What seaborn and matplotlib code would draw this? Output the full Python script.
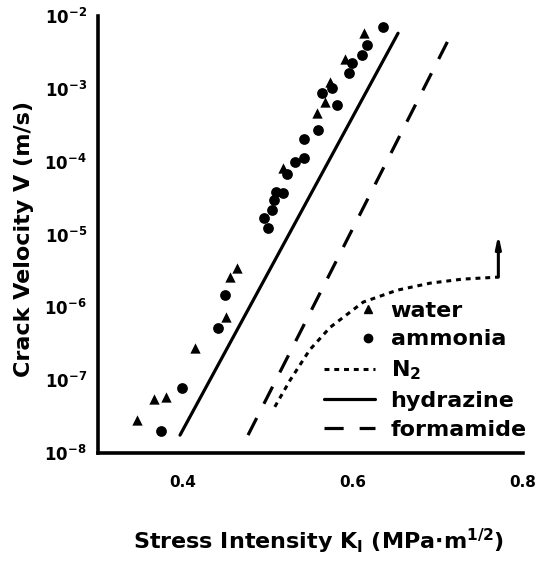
import matplotlib
matplotlib.use("Agg")
import matplotlib.pyplot as plt
import seaborn as sns
import pandas as pd
import numpy as np
from matplotlib.lines import Line2D
from matplotlib.legend_handler import HandlerBase
from matplotlib.ticker import FixedLocator, NullLocator

# ---- data ----
water_K = [0.346, 0.366, 0.380, 0.414, 0.451, 0.455, 0.464, 0.518, 0.558, 0.567, 0.573, 0.591, 0.613]
water_V = [2.8e-8, 5.5e-8, 5.8e-8, 2.8e-7, 7.3e-7, 2.6e-6, 3.45e-6, 8.2e-5, 4.7e-4, 6.6e-4, 1.24e-3, 2.56e-3, 5.8e-3]

ammonia_K = [0.374, 0.399, 0.441, 0.449, 0.500, 0.495, 0.505, 0.507, 0.509, 0.518, 0.522, 0.532,
             0.542, 0.542, 0.559, 0.581, 0.564, 0.575, 0.595, 0.599, 0.611, 0.617, 0.635]
ammonia_V = [2.0e-8, 7.8e-8, 5.2e-7, 1.5e-6, 1.22e-5, 1.68e-5, 2.16e-5, 2.97e-5, 3.8e-5, 3.7e-5, 6.8e-5, 9.9e-5,
             1.12e-4, 2.04e-4, 2.7e-4, 6.0e-4, 8.7e-4, 1.03e-3, 1.65e-3, 2.26e-3, 2.9e-3, 4.0e-3, 7.1e-3]

hydrazine_K = [0.3965, 0.653]
hydrazine_V = [1.76e-8, 5.8e-3]

formamide_K = [0.4765, 0.7165]
formamide_V = [1.76e-8, 5.9e-3]

n2_K = [0.508, 0.526, 0.549, 0.573, 0.612, 0.652, 0.691, 0.729, 0.771]
n2_V = [4.3e-8, 1.0e-7, 2.6e-7, 5.3e-7, 1.18e-6, 1.72e-6, 2.15e-6, 2.44e-6, 2.6e-6]
n2_arrow_top_V = 1.0e-5

x_ticks = [0.4, 0.5, 0.6, 0.7, 0.8]
x_ticklabels = ["0.4", "", "0.6", "", "0.8"]
y_ticks = [1e-8, 1e-7, 1e-6, 1e-5, 1e-4, 1e-3, 1e-2]
y_exps = [-8, -7, -6, -5, -4, -3, -2]

# ---- style ----
sns.set_style("white")
plt.rcParams['font.family'] = ['DejaVu Sans']
plt.rcParams['font.weight'] = 'bold'
plt.rcParams['mathtext.default'] = 'bf'
plt.rcParams['text.color'] = 'black'
plt.rcParams['axes.labelcolor'] = 'black'
plt.rcParams['xtick.color'] = 'black'
plt.rcParams['ytick.color'] = 'black'

fig = plt.figure(figsize=(5.4, 5.61), dpi=100)
ax = fig.add_axes([98/540, 1 - 453/561, (523 - 98)/540, (453 - 16)/561])

water = pd.DataFrame({"K": water_K, "V": water_V})
ammonia = pd.DataFrame({"K": ammonia_K, "V": ammonia_V})
hyd = pd.DataFrame({"K": hydrazine_K, "V": hydrazine_V})
form = pd.DataFrame({"K": formamide_K, "V": formamide_V})
n2 = pd.DataFrame({"K": n2_K, "V": n2_V})

sns.lineplot(data=hyd, x="K", y="V", ax=ax, color="black", lw=2.3, sort=False)
sns.lineplot(data=form, x="K", y="V", ax=ax, color="black", lw=2.3, sort=False,
             dashes=False, linestyle=(0, (6, 5)))
sns.lineplot(data=n2, x="K", y="V", ax=ax, color="black", lw=2.2, sort=False,
             linestyle=(0, (1.6, 1.6)))
sns.scatterplot(data=water, x="K", y="V", ax=ax, color="black", marker="^", s=55, linewidth=0)
sns.scatterplot(data=ammonia, x="K", y="V", ax=ax, color="black", marker="o", s=60, linewidth=0)

ax.annotate("", xy=(n2_K[-1], n2_arrow_top_V), xytext=(n2_K[-1], n2_V[-1]),
            arrowprops=dict(arrowstyle="-|>,head_length=0.7,head_width=0.15", color="black", lw=2.2,
                            shrinkA=0, shrinkB=0))

ax.set_yscale("log")
ax.set_xlim(0.3, 0.8)
ax.set_ylim(1e-8, 1e-2)
ax.xaxis.set_major_locator(FixedLocator(x_ticks))
ax.set_xticklabels(x_ticklabels)
ax.yaxis.set_major_locator(FixedLocator(y_ticks))
ax.yaxis.set_minor_locator(NullLocator())
ax.set_yticklabels([r"$\mathbf{10^{%d}}$" % e for e in y_exps])

for side in ["top", "right"]:
    ax.spines[side].set_visible(False)
for side in ["left", "bottom"]:
    ax.spines[side].set_linewidth(2.6)
    ax.spines[side].set_color("black")

ax.tick_params(axis="y", direction="in", length=11, width=2.6, labelsize=12, pad=8, colors="black")
ax.tick_params(axis="x", direction="in", length=8, width=2.3, labelsize=11, pad=16, colors="black")
for t in ax.get_xticklabels():
    t.set_fontweight("bold")

ax.set_xlabel(r"Stress Intensity K$_\mathbf{I}$ (MPa$\bullet$m$^{1/2}$)", fontsize=16,
              fontweight="bold")
ax.set_ylabel("Crack Velocity V (m/s)", fontsize=16, fontweight="bold")
ax.xaxis.set_label_coords(0.52, -0.17)
ax.yaxis.set_label_coords(-0.15, 0.49)


class RightMarker(HandlerBase):
    def create_artists(self, legend, orig_handle, xdescent, ydescent, width, height, fontsize, trans):
        ln = Line2D([width - xdescent - 5], [height / 2 - ydescent],
                    marker=orig_handle.get_marker(), markersize=orig_handle.get_markersize(),
                    color="black", linestyle="none", transform=trans)
        return [ln]


handles = [
    Line2D([], [], marker="^", markersize=6, color="black", linestyle="none"),
    Line2D([], [], marker="o", markersize=6, color="black", linestyle="none"),
    Line2D([], [], color="black", lw=2.2, linestyle=(0, (1.6, 1.6))),
    Line2D([], [], color="black", lw=2.3),
    Line2D([], [], color="black", lw=2.3, linestyle=(0, (6, 5))),
]
labels = ["water", "ammonia", r"N$_\mathbf{2}$", "hydrazine", "formamide"]
leg = ax.legend(handles, labels, loc="lower right", bbox_to_anchor=(1.04, 0.0),
                frameon=False, handlelength=2.3, handletextpad=0.7,
                labelspacing=0.4, borderaxespad=0.2,
                handler_map={handles[0]: RightMarker(), handles[1]: RightMarker()},
                prop={"weight": "bold", "size": 16})
for t in leg.get_texts():
    t.set_color("black")

fig.savefig("out.png", dpi=100)
